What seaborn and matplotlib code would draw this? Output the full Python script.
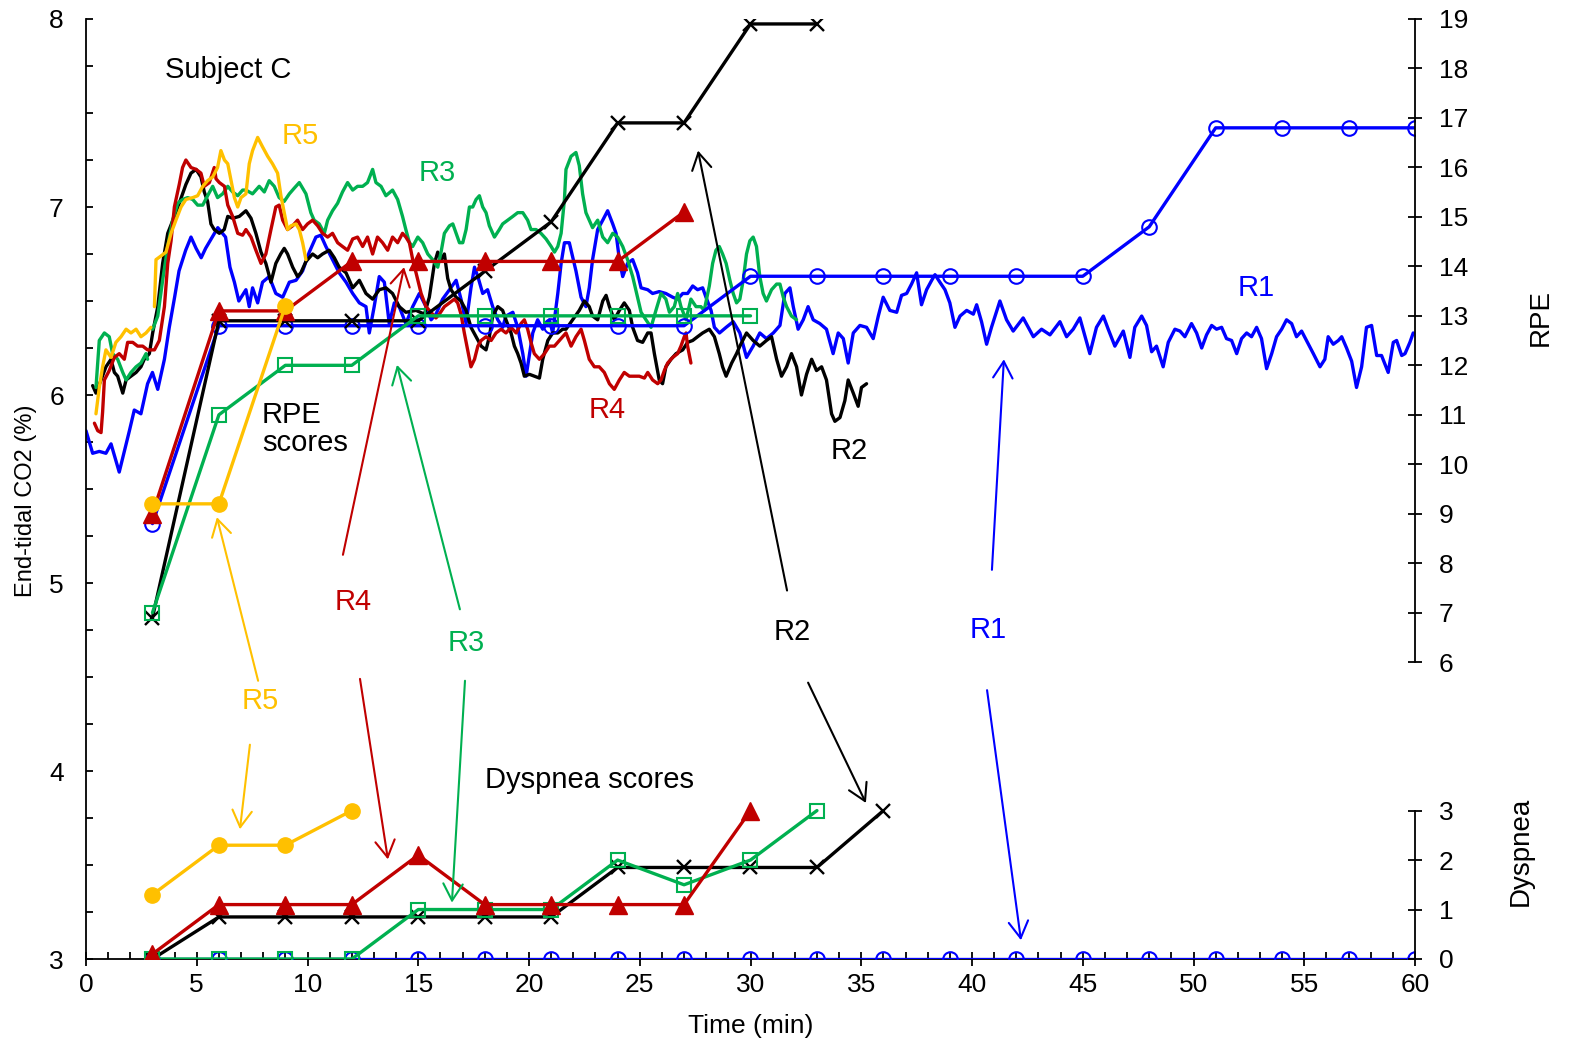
import numpy as np
import pandas as pd
import matplotlib
matplotlib.use("Agg")
import matplotlib.pyplot as plt
import seaborn as sns
from matplotlib.ticker import MultipleLocator, FixedLocator

sns.set_theme(style="white")
plt.rcParams['font.family'] = ['Liberation Sans', 'DejaVu Sans']
plt.rcParams['text.color'] = 'black'
plt.rcParams['axes.labelcolor'] = 'black'
plt.rcParams['xtick.color'] = 'black'
plt.rcParams['ytick.color'] = 'black'

# ---------------- End-tidal CO2 traces (time in min, CO2 in %) ----------------
R1_T = [0, 0.3, 0.6, 0.9, 1.13, 1.5, 1.96, 2.18, 2.48, 2.78, 3.0, 3.24, 3.54, 3.76, 4.0, 4.2, 4.5, 4.74, 4.97, 5.2,
        5.4, 5.7, 5.95, 6.3, 6.5, 6.7, 6.9, 7.22, 7.37, 7.52, 7.75, 7.97, 8.27, 8.57, 8.88, 9.18, 9.48, 9.78, 10.08,
        10.38, 10.6, 10.83, 11.13, 11.43, 11.74, 12.04, 12.34, 12.64, 12.79, 13.01, 13.24, 13.47, 13.69, 13.92, 14.14,
        14.44, 14.75, 15.05, 15.35, 15.58, 15.8, 16.1, 16.41, 16.71, 16.93, 17.16, 17.38, 17.54, 17.69, 17.91, 18.13,
        18.36, 18.59, 18.81, 18.96, 19.27, 19.49, 19.72, 19.87, 20.17, 20.39, 20.62, 20.92, 21.07, 21.3, 21.45, 21.6,
        21.82, 22.12, 22.35, 22.57, 22.72, 22.87, 23.1, 23.33, 23.55, 23.78, 23.93, 24.08, 24.23, 24.45, 24.68, 24.9,
        25.06, 25.36, 25.58, 25.88, 26.18, 26.49, 26.71, 26.94, 27.16, 27.39, 27.61, 27.84, 27.99, 28.22, 28.37, 28.6,
        28.9, 29.22, 29.52, 29.82, 30.12, 30.42, 30.72, 31.03, 31.33, 31.55, 31.78, 31.93, 32.15, 32.38, 32.6, 32.83,
        33.13, 33.43, 33.73, 33.96, 34.19, 34.41, 34.64, 34.94, 35.24, 35.54, 35.77, 35.99, 36.29, 36.6, 36.82, 37.05,
        37.27, 37.5, 37.72, 37.95, 38.18, 38.33, 38.55, 38.78, 39.0, 39.23, 39.46, 39.76, 40.06, 40.21, 40.43, 40.66,
        40.88, 41.26, 41.56, 41.86, 42.31, 42.77, 43.14, 43.52, 43.97, 44.27, 44.57, 44.87, 45.32, 45.62, 45.93, 46.15,
        46.45, 46.83, 47.13, 47.35, 47.66, 47.88, 48.11, 48.33, 48.63, 48.86, 49.16, 49.39, 49.61, 49.91, 50.14, 50.37,
        50.59, 50.82, 51.04, 51.27, 51.49, 51.72, 51.95, 52.17, 52.4, 52.62, 52.85, 53.07, 53.3, 53.53, 53.75, 53.98,
        54.2, 54.43, 54.65, 54.88, 55.1, 55.41, 55.71, 55.93, 56.08, 56.31, 56.54, 56.69, 56.91, 57.14, 57.36, 57.59,
        57.81, 58.04, 58.27, 58.49, 58.79, 59.02, 59.17, 59.4, 59.55, 59.77, 59.92]
R1_CO2 = [5.81, 5.69, 5.7, 5.69, 5.74, 5.59, 5.81, 5.92, 5.9, 6.06, 6.12, 6.03, 6.19, 6.36, 6.52, 6.66, 6.77, 6.84, 6.78,
          6.73, 6.78, 6.84, 6.89, 6.84, 6.68, 6.6, 6.5, 6.56, 6.47, 6.57, 6.49, 6.6, 6.63, 6.54, 6.52, 6.6, 6.61, 6.66,
          6.76, 6.84, 6.85, 6.79, 6.72, 6.65, 6.6, 6.54, 6.49, 6.47, 6.33, 6.47, 6.63, 6.6, 6.38, 6.49, 6.47, 6.38, 6.47,
          6.54, 6.47, 6.4, 6.43, 6.51, 6.56, 6.61, 6.51, 6.38, 6.57, 6.68, 6.63, 6.54, 6.56, 6.47, 6.4, 6.36, 6.42, 6.44,
          6.36, 6.22, 6.1, 6.33, 6.4, 6.35, 6.4, 6.33, 6.54, 6.7, 6.81, 6.81, 6.66, 6.52, 6.47, 6.57, 6.72, 6.88, 6.93,
          6.98, 6.91, 6.86, 6.72, 6.63, 6.7, 6.72, 6.65, 6.57, 6.56, 6.54, 6.55, 6.54, 6.52, 6.51, 6.54, 6.54, 6.58,
          6.56, 6.57, 6.52, 6.45, 6.36, 6.33, 6.36, 6.39, 6.33, 6.2, 6.26, 6.33, 6.3, 6.33, 6.37, 6.54, 6.57, 6.47, 6.35,
          6.4, 6.47, 6.4, 6.38, 6.35, 6.22, 6.33, 6.3, 6.17, 6.33, 6.37, 6.36, 6.3, 6.42, 6.52, 6.45, 6.44, 6.53, 6.54,
          6.59, 6.65, 6.48, 6.56, 6.61, 6.64, 6.6, 6.56, 6.49, 6.36, 6.42, 6.45, 6.43, 6.48, 6.39, 6.27, 6.36, 6.5, 6.4,
          6.34, 6.41, 6.31, 6.35, 6.32, 6.39, 6.31, 6.35, 6.41, 6.22, 6.36, 6.42, 6.35, 6.26, 6.34, 6.2, 6.36, 6.42,
          6.37, 6.23, 6.26, 6.15, 6.28, 6.35, 6.34, 6.31, 6.38, 6.33, 6.25, 6.32, 6.37, 6.35, 6.36, 6.3, 6.29, 6.22,
          6.3, 6.33, 6.31, 6.36, 6.3, 6.14, 6.22, 6.31, 6.35, 6.4, 6.38, 6.31, 6.34, 6.29, 6.22, 6.15, 6.19, 6.31, 6.27,
          6.29, 6.31, 6.25, 6.18, 6.04, 6.15, 6.36, 6.37, 6.21, 6.21, 6.12, 6.28, 6.29, 6.21, 6.22, 6.28, 6.33]

R2_T = [0.3, 0.45, 0.68, 0.9, 1.13, 1.28, 1.43, 1.66, 1.81, 2.03, 2.26, 2.48, 2.63, 2.86, 3.01, 3.24, 3.46, 3.69, 3.99,
        4.21, 4.51, 4.74, 4.97, 5.19, 5.34, 5.49, 5.64, 5.79, 6.02, 6.24, 6.4, 6.62, 6.92, 7.22, 7.45, 7.67, 7.9, 8.12,
        8.35, 8.57, 8.79, 8.95, 9.1, 9.33, 9.55, 9.7, 9.93, 10.23, 10.46, 10.68, 10.98, 11.21, 11.43, 11.74, 12.04,
        12.34, 12.64, 12.94, 13.24, 13.54, 13.84, 14.14, 14.44, 14.9, 15.28, 15.5, 15.73, 15.88, 16.03, 16.18, 16.33,
        16.48, 16.71, 16.93, 17.16, 17.38, 17.61, 17.84, 18.06, 18.21, 18.36, 18.59, 18.81, 18.96, 19.19, 19.34, 19.49,
        19.64, 19.79, 20.02, 20.24, 20.47, 20.62, 20.85, 21.07, 21.3, 21.52, 21.67, 21.97, 22.27, 22.5, 22.72, 22.87,
        23.1, 23.33, 23.48, 23.63, 23.85, 24.08, 24.3, 24.53, 24.68, 24.9, 25.13, 25.36, 25.51, 25.66, 25.88, 26.03,
        26.18, 26.41, 26.64, 26.94, 27.16, 27.39, 27.61, 27.84, 28.14, 28.37, 28.59, 28.74, 28.9, 29.15, 29.37, 29.52,
        29.82, 30.12, 30.42, 30.72, 30.95, 31.18, 31.4, 31.63, 31.85, 32.08, 32.3, 32.53, 32.76, 32.98, 33.21, 33.43,
        33.66, 33.81, 34.04, 34.26, 34.41, 34.64, 34.86, 35.01, 35.24]
R2_CO2 = [6.05, 6.01, 6.08, 6.15, 6.19, 6.12, 6.1, 6.01, 6.08, 6.1, 6.12, 6.15, 6.19, 6.22, 6.33, 6.47, 6.7, 6.86, 6.95,
          7.02, 7.12, 7.18, 7.2, 7.16, 7.08, 7.03, 6.91, 6.88, 6.86, 6.88, 6.95, 6.94, 6.95, 6.98, 6.94, 6.86, 6.76,
          6.7, 6.6, 6.7, 6.75, 6.78, 6.75, 6.68, 6.63, 6.65, 6.71, 6.75, 6.73, 6.75, 6.77, 6.73, 6.68, 6.65, 6.57, 6.61,
          6.54, 6.51, 6.56, 6.57, 6.54, 6.47, 6.44, 6.45, 6.43, 6.52, 6.7, 6.76, 6.72, 6.75, 6.62, 6.56, 6.52, 6.5, 6.45,
          6.36, 6.31, 6.26, 6.24, 6.31, 6.42, 6.47, 6.45, 6.4, 6.33, 6.26, 6.22, 6.17, 6.1, 6.11, 6.1, 6.09, 6.19, 6.29,
          6.33, 6.33, 6.35, 6.35, 6.4, 6.45, 6.5, 6.47, 6.42, 6.4, 6.5, 6.53, 6.47, 6.4, 6.45, 6.49, 6.45, 6.36, 6.29,
          6.28, 6.33, 6.33, 6.22, 6.08, 6.06, 6.15, 6.19, 6.22, 6.24, 6.28, 6.29, 6.31, 6.33, 6.35, 6.31, 6.22, 6.15,
          6.1, 6.17, 6.22, 6.26, 6.33, 6.29, 6.26, 6.29, 6.31, 6.19, 6.1, 6.15, 6.22, 6.15, 6.0, 6.11, 6.19, 6.13, 6.15,
          6.08, 5.9, 5.86, 5.88, 5.97, 6.08, 6.01, 5.94, 6.04, 6.06]

# NaN marks the short break in the recording
R3_T = [0.45, 0.6, 0.83, 1.05, 1.2, 1.43, 1.66, 1.81, 2.03, 2.26, 2.48, 2.71, 2.78, 2.9, 3.01, 3.24, 3.46, 3.69, 3.91,
        4.14, 4.36, 4.59, 4.82, 5.04, 5.27, 5.49, 5.72, 5.94, 6.17, 6.4, 6.62, 6.85, 7.07, 7.22, 7.52, 7.82, 8.05,
        8.27, 8.5, 8.72, 8.95, 9.18, 9.4, 9.63, 9.78, 9.93, 10.15, 10.3, 10.53, 10.76, 10.91, 11.13, 11.36, 11.58,
        11.81, 12.04, 12.26, 12.49, 12.71, 12.94, 13.09, 13.32, 13.54, 13.84, 14.07, 14.29, 14.44, 14.6, 14.75, 14.98,
        15.2, 15.43, 15.65, 15.88, 16.03, 16.18, 16.41, 16.56, 16.71, 16.86, 17.01, 17.16, 17.31, 17.46, 17.61, 17.76,
        17.91, 18.06, 18.21, 18.44, 18.66, 18.81, 19.04, 19.27, 19.49, 19.72, 19.94, 20.09, 20.32, 20.54, 20.77, 21.0,
        21.15, 21.3, 21.45, 21.6, 21.67, 21.9, 22.12, 22.27, 22.42, 22.57, 22.72, 22.87, 23.1, 23.33, 23.55, 23.78,
        24.0, 24.23, 24.45, 24.68, 24.9, 25.06, 25.28, 25.51, 25.73, 25.96, 26.18, 26.34, 26.56, 26.71, 26.86, 27.09,
        27.31, 27.54, 27.76, 27.91, 28.14, 28.29, 28.44, 28.59, 28.74, 28.9, 29.07, 29.22, 29.37, 29.52, 29.67, 29.82,
        29.97, 30.12, 30.27, 30.42, 30.57, 30.72, 30.95, 31.18, 31.33, 31.48, 31.63, 31.85, 32.08]
R3_CO2 = [6.04, 6.29, 6.33, 6.31, 6.22, 6.19, 6.12, 6.08, 6.12, 6.15, 6.17, 6.22, 6.19, np.nan, 6.35, 6.42, 6.61, 6.79,
          6.93, 7.02, 7.04, 7.05, 7.04, 7.01, 7.01, 7.06, 7.11, 7.05, 7.07, 7.11, 7.08, 7.06, 7.09, 7.09, 7.07, 7.11,
          7.08, 7.14, 7.11, 7.05, 7.03, 7.07, 7.1, 7.13, 7.1, 7.07, 6.97, 6.93, 6.91, 6.86, 6.93, 6.98, 7.02, 7.08, 7.13,
          7.09, 7.11, 7.11, 7.13, 7.2, 7.13, 7.11, 7.06, 7.09, 7.04, 6.95, 6.88, 6.81, 6.79, 6.84, 6.81, 6.75, 6.72,
          6.68, 6.76, 6.86, 6.9, 6.91, 6.86, 6.81, 6.81, 6.88, 7.0, 7.0, 7.04, 7.06, 7.0, 6.97, 6.9, 6.84, 6.88, 6.91,
          6.93, 6.95, 6.97, 6.97, 6.93, 6.88, 6.88, 6.86, 6.83, 6.79, 6.76, 6.79, 6.86, 7.04, 7.2, 7.27, 7.29, 7.22,
          7.07, 6.97, 6.93, 6.89, 6.93, 6.84, 6.81, 6.86, 6.84, 6.79, 6.72, 6.63, 6.52, 6.44, 6.4, 6.36, 6.45, 6.54,
          6.51, 6.44, 6.47, 6.54, 6.47, 6.4, 6.51, 6.47, 6.47, 6.45, 6.58, 6.7, 6.77, 6.79, 6.75, 6.7, 6.61, 6.54, 6.49,
          6.51, 6.61, 6.75, 6.82, 6.84, 6.79, 6.63, 6.54, 6.5, 6.56, 6.59, 6.59, 6.52, 6.47, 6.42, 6.4]

R4_T = [0.38, 0.53, 0.68, 0.75, 0.83, 1.05, 1.28, 1.5, 1.73, 1.88, 2.11, 2.33, 2.56, 2.78, 3.01, 3.09, 3.31, 3.54, 3.69,
        3.84, 3.99, 4.21, 4.36, 4.51, 4.74, 4.97, 5.19, 5.34, 5.57, 5.79, 5.87, 6.02, 6.25, 6.4, 6.62, 6.85, 7.07,
        7.22, 7.45, 7.67, 7.9, 8.12, 8.35, 8.57, 8.72, 8.88, 9.1, 9.33, 9.55, 9.78, 10.0, 10.23, 10.46, 10.68, 10.91,
        11.13, 11.36, 11.58, 11.81, 12.04, 12.26, 12.49, 12.71, 12.94, 13.16, 13.39, 13.62, 13.84, 14.07, 14.29, 14.44,
        14.6, 14.75, 14.9, 15.13, 15.35, 15.5, 15.65, 15.8, 15.95, 16.18, 16.41, 16.63, 16.78, 16.93, 17.08, 17.23,
        17.38, 17.54, 17.69, 17.84, 18.06, 18.29, 18.51, 18.74, 18.96, 19.19, 19.42, 19.64, 19.79, 19.94, 20.09, 20.24,
        20.47, 20.7, 20.92, 21.15, 21.37, 21.52, 21.67, 21.9, 22.12, 22.35, 22.5, 22.72, 22.95, 23.17, 23.4, 23.63,
        23.85, 24.08, 24.3, 24.53, 24.76, 24.98, 25.21, 25.36, 25.58, 25.81, 25.96, 26.11, 26.26, 26.49, 26.71, 26.86,
        27.01, 27.09, 27.16, 27.31]
R4_CO2 = [5.85, 5.81, 5.8, 5.91, 6.08, 6.13, 6.2, 6.22, 6.19, 6.28, 6.28, 6.26, 6.26, 6.24, 6.24, 6.24, 6.29, 6.47, 6.7,
          6.82, 7.0, 7.12, 7.21, 7.25, 7.21, 7.2, 7.18, 7.11, 7.13, 7.21, 7.15, 7.13, 7.11, 7.01, 6.95, 6.86, 6.85,
          6.88, 6.84, 6.77, 6.7, 6.75, 6.88, 7.0, 7.01, 6.93, 6.88, 6.9, 6.93, 6.88, 6.91, 6.93, 6.9, 6.86, 6.84, 6.86,
          6.81, 6.79, 6.77, 6.83, 6.84, 6.79, 6.84, 6.75, 6.84, 6.81, 6.77, 6.84, 6.81, 6.86, 6.84, 6.81, 6.72, 6.65,
          6.54, 6.47, 6.45, 6.43, 6.41, 6.43, 6.47, 6.49, 6.51, 6.49, 6.43, 6.33, 6.24, 6.15, 6.19, 6.26, 6.29, 6.31,
          6.29, 6.33, 6.35, 6.33, 6.36, 6.33, 6.38, 6.4, 6.35, 6.28, 6.22, 6.19, 6.22, 6.26, 6.26, 6.29, 6.31, 6.33,
          6.26, 6.31, 6.35, 6.29, 6.19, 6.15, 6.15, 6.12, 6.06, 6.03, 6.08, 6.12, 6.1, 6.1, 6.1, 6.09, 6.12, 6.08, 6.06,
          6.08, 6.13, 6.17, 6.2, 6.22, 6.26, 6.31, 6.33, 6.26, 6.17]

R5_T = [0.45, 0.6, 0.75, 0.9, 1.13, 1.35, 1.58, 1.81, 2.03, 2.26, 2.48, 2.71, 2.93, 3.0, 3.09, 3.16, 3.39, 3.61, 3.84,
        4.06, 4.29, 4.51, 4.82, 5.04, 5.27, 5.49, 5.72, 5.94, 6.09, 6.25, 6.4, 6.55, 6.7, 6.85, 7.0, 7.22, 7.37, 7.52,
        7.75, 7.97, 8.2, 8.42, 8.65, 8.8, 8.95, 9.1, 9.25, 9.48, 9.63, 9.78, 9.93]
R5_CO2 = [5.9, 6.04, 6.15, 6.24, 6.2, 6.28, 6.31, 6.35, 6.33, 6.35, 6.31, 6.33, 6.36, np.nan, 6.47, 6.72, 6.74, 6.76,
          6.86, 6.93, 7.0, 7.04, 7.05, 7.06, 7.11, 7.14, 7.16, 7.21, 7.3, 7.25, 7.23, 7.14, 7.05, 7.0, 7.05, 7.07, 7.23,
          7.3, 7.37, 7.32, 7.27, 7.23, 7.18, 7.06, 6.97, 6.88, 6.9, 6.91, 6.88, 6.81, 6.72]

# ---------------- RPE scores (right axis) ----------------
R1_RPE_T = [3, 6, 9, 12, 15, 18, 21, 24, 27, 30, 33, 36, 39, 42, 45, 48, 51, 54, 57, 60]
R1_RPE = [8.8, 12.8, 12.8, 12.8, 12.8, 12.8, 12.8, 12.8, 12.8, 13.8, 13.8, 13.8, 13.8, 13.8, 13.8, 14.8, 16.8, 16.8,
          16.8, 16.8]
R2_RPE_T = [3, 6, 9, 12, 15, 18, 21, 24, 27, 30, 33]
R2_RPE = [6.9, 12.9, 12.9, 12.9, 12.9, 13.9, 14.9, 16.9, 16.9, 18.9, 18.9]
R3_RPE_T = [3, 6, 9, 12, 15, 18, 21, 24, 27, 30]
R3_RPE = [7.0, 11.0, 12.0, 12.0, 13.0, 13.0, 13.0, 13.0, 13.0, 13.0]
R4_RPE_T = [3, 6, 9, 12, 15, 18, 21, 24, 27]
R4_RPE = [9.0, 13.1, 13.1, 14.1, 14.1, 14.1, 14.1, 14.1, 15.1]
R5_RPE_T = [3, 6, 9]
R5_RPE = [9.2, 9.2, 13.2]

# ---------------- Dyspnea scores (right axis) ----------------
R1_DYS_T = [3, 6, 9, 12, 15, 18, 21, 24, 27, 30, 33, 36, 39, 42, 45, 48, 51, 54, 57, 60]
R1_DYS = [0] * 20
R2_DYS_T = [3, 6, 9, 12, 15, 18, 21, 24, 27, 30, 33, 36]
R2_DYS = [0, 0.85, 0.85, 0.85, 0.85, 0.85, 0.85, 1.85, 1.85, 1.85, 1.85, 3.0]
R3_DYS_T = [3, 6, 9, 12, 15, 18, 21, 24, 27, 30, 33]
R3_DYS = [0, 0, 0, 0, 1.0, 1.0, 1.0, 2.0, 1.5, 2.0, 3.0]
R4_DYS_T = [3, 6, 9, 12, 15, 18, 21, 24, 27, 30]
R4_DYS = [0.1, 1.1, 1.1, 1.1, 2.1, 1.1, 1.1, 1.1, 1.1, 3.0]
R5_DYS_T = [3, 6, 9, 12]
R5_DYS = [1.3, 2.3, 2.3, 3.0]

RUNS = ["R1", "R2", "R3", "R4", "R5"]
COLORS = {"R1": "#0000FF", "R2": "#000000", "R3": "#00B050", "R4": "#C00000", "R5": "#FFC000"}

# ---------------- build figure ----------------
W, H = 1569, 1047
fig = plt.figure(figsize=(W / 100, H / 100), dpi=100)
L, R, B, T = 86, 1415, 959, 19
ax = fig.add_axes([L / W, 1 - B / H, (R - L) / W, (B - T) / H])
ax.set_xlim(0, 60)
ax.set_ylim(3, 8)
ax2 = ax.twinx()
ax3 = ax.twinx()
for a in (ax2, ax3):
    a.set_ylim(0, 19)
ax.patch.set_alpha(0)

# CO2 traces (split at recording breaks)
trace_data = {"R1": (R1_T, R1_CO2), "R2": (R2_T, R2_CO2), "R3": (R3_T, R3_CO2),
              "R4": (R4_T, R4_CO2), "R5": (R5_T, R5_CO2)}
rows = []
for run in RUNS:
    t, v = trace_data[run]
    seg = 0
    for ti, vi in zip(t, v):
        if np.isnan(vi):
            seg += 1
            continue
        rows.append((run, f"{run}_{seg}", ti, vi))
co2_df = pd.DataFrame(rows, columns=["run", "seg", "time", "co2"])
sns.lineplot(data=co2_df, x="time", y="co2", hue="run", units="seg", estimator=None,
             palette=COLORS, hue_order=RUNS, lw=2.4, sort=False, legend=False, ax=ax)

# score lines
styles = {
    "R1": dict(marker="o", markersize=10.5, markerfacecolor="none", markeredgewidth=1.5),
    "R2": dict(marker="x", markersize=10, markeredgewidth=1.7),
    "R3": dict(marker="s", markersize=10, markerfacecolor="none", markeredgewidth=1.5),
    "R4": dict(marker="^", markersize=12.5, markeredgewidth=1.0),
    "R5": dict(marker="o", markersize=11, markeredgewidth=1.0),
}
rpe_data = {"R1": (R1_RPE_T, R1_RPE), "R2": (R2_RPE_T, R2_RPE), "R3": (R3_RPE_T, R3_RPE),
            "R4": (R4_RPE_T, R4_RPE), "R5": (R5_RPE_T, R5_RPE)}
dys_data = {"R1": (R1_DYS_T, R1_DYS), "R2": (R2_DYS_T, R2_DYS), "R3": (R3_DYS_T, R3_DYS),
            "R4": (R4_DYS_T, R4_DYS), "R5": (R5_DYS_T, R5_DYS)}
for run in RUNS:
    c = COLORS[run]
    kw = dict(styles[run])
    kw.setdefault("markerfacecolor", c)
    for src in (rpe_data, dys_data):
        t, v = src[run]
        sns.lineplot(x=t, y=v, ax=ax2, color=c, lw=2.4, markeredgecolor=c,
                     estimator=None, sort=False, legend=False, **kw)

# ---------------- axes styling ----------------
lw_sp = 1.3
for a in (ax, ax2, ax3):
    for s in a.spines.values():
        s.set_visible(False)
ax.spines["left"].set_visible(True)
ax.spines["bottom"].set_visible(True)
ax.spines["left"].set_linewidth(lw_sp)
ax.spines["bottom"].set_linewidth(lw_sp)
ax.spines["left"].set_color("black")
ax.spines["bottom"].set_color("black")

fs = 19
fa = 21
ax.xaxis.set_major_locator(MultipleLocator(5))
ax.xaxis.set_minor_locator(MultipleLocator(1))
ax.yaxis.set_major_locator(MultipleLocator(1))
ax.yaxis.set_minor_locator(MultipleLocator(0.25))
ax.tick_params(axis="x", which="major", direction="inout", length=10, width=lw_sp, bottom=True,
               labelsize=fs, pad=5, colors="black")
ax.tick_params(axis="x", which="minor", direction="in", length=5, width=lw_sp, bottom=True)
ax.tick_params(axis="y", which="both", direction="in", length=5, width=lw_sp, left=True, right=False,
               labelsize=fs, pad=16, colors="black")
ax.set_xlabel("Time (min)", fontsize=fs, color="black")
ax.xaxis.set_label_coords(0.5, -0.058)
ax.set_ylabel("End-tidal CO2 (%)", fontsize=17, color="black")
ax.yaxis.set_label_coords(-0.037, 0.488)

for a, lo, hi, lab, ly, lx in ((ax2, 6, 19, "RPE", 0.682, 1.085), (ax3, 0, 3, "Dyspnea", 0.114, 1.070)):
    a.spines["right"].set_visible(True)
    a.spines["right"].set_bounds(lo, hi)
    a.spines["right"].set_linewidth(lw_sp)
    a.spines["right"].set_color("black")
    a.yaxis.set_major_locator(FixedLocator(list(range(lo, hi + 1))))
    a.yaxis.set_minor_locator(FixedLocator([]))
    a.tick_params(axis="y", which="major", direction="inout", length=10, width=lw_sp, right=True,
                  left=False, labelright=True, labelleft=False, labelsize=fs, pad=12, colors="black")
    a.tick_params(axis="x", bottom=False, top=False, labelbottom=False)
    a.set_ylabel(lab, fontsize=20, color="black")
    a.yaxis.set_label_position("right")
    a.yaxis.set_label_coords(lx, ly)
    a.set_xlabel("")

# ---------------- annotations ----------------
ax2.text(3.57, 7.73, "Subject C", fontsize=fa, ha="left", va="center", color="black", transform=ax.transData)
ax2.text(7.95, 5.82, "RPE\nscores", fontsize=fa, ha="left", va="center", linespacing=1.0, color="black",
         transform=ax.transData)
ax2.text(18.0, 3.95, "Dyspnea scores", fontsize=fa, ha="left", va="center", color="black", transform=ax.transData)

labels = [  # (run, x, y)
    ("R5", 9.66, 7.38), ("R3", 15.85, 7.18), ("R4", 23.52, 5.92), ("R2", 34.45, 5.70), ("R1", 52.82, 6.57),
    ("R5", 7.86, 4.37), ("R4", 12.05, 4.90), ("R3", 17.16, 4.68), ("R2", 31.87, 4.74), ("R1", 40.72, 4.75),
]
for run, x, y in labels:
    ax2.text(x, y, run, fontsize=fa, color=COLORS[run], ha="center", va="center", transform=ax.transData)

arrows = [  # (run, tail, head)
    ("R5", (7.77, 4.48), (5.91, 5.35)), ("R5", (7.40, 4.14), (6.95, 3.69)),
    ("R4", (11.60, 5.15), (14.36, 6.68)), ("R4", (12.37, 4.49), (13.63, 3.53)),
    ("R3", (16.88, 4.86), (14.04, 6.16)), ("R3", (17.11, 4.48), (16.52, 3.30)),
    ("R2", (31.65, 4.96), (27.63, 7.30)), ("R2", (32.60, 4.47), (35.21, 3.83)),
    ("R1", (40.90, 5.07), (41.44, 6.19)), ("R1", (40.68, 4.43), (42.21, 3.10)),
]
for run, tail, head in arrows:
    ax2.annotate("", xy=head, xytext=tail, xycoords=ax.transData, textcoords=ax.transData,
                 arrowprops=dict(arrowstyle="->,head_length=0.6,head_width=0.35", color=COLORS[run],
                                 lw=1.5, mutation_scale=20, shrinkA=0, shrinkB=0))

fig.savefig("out.png", dpi=100)
